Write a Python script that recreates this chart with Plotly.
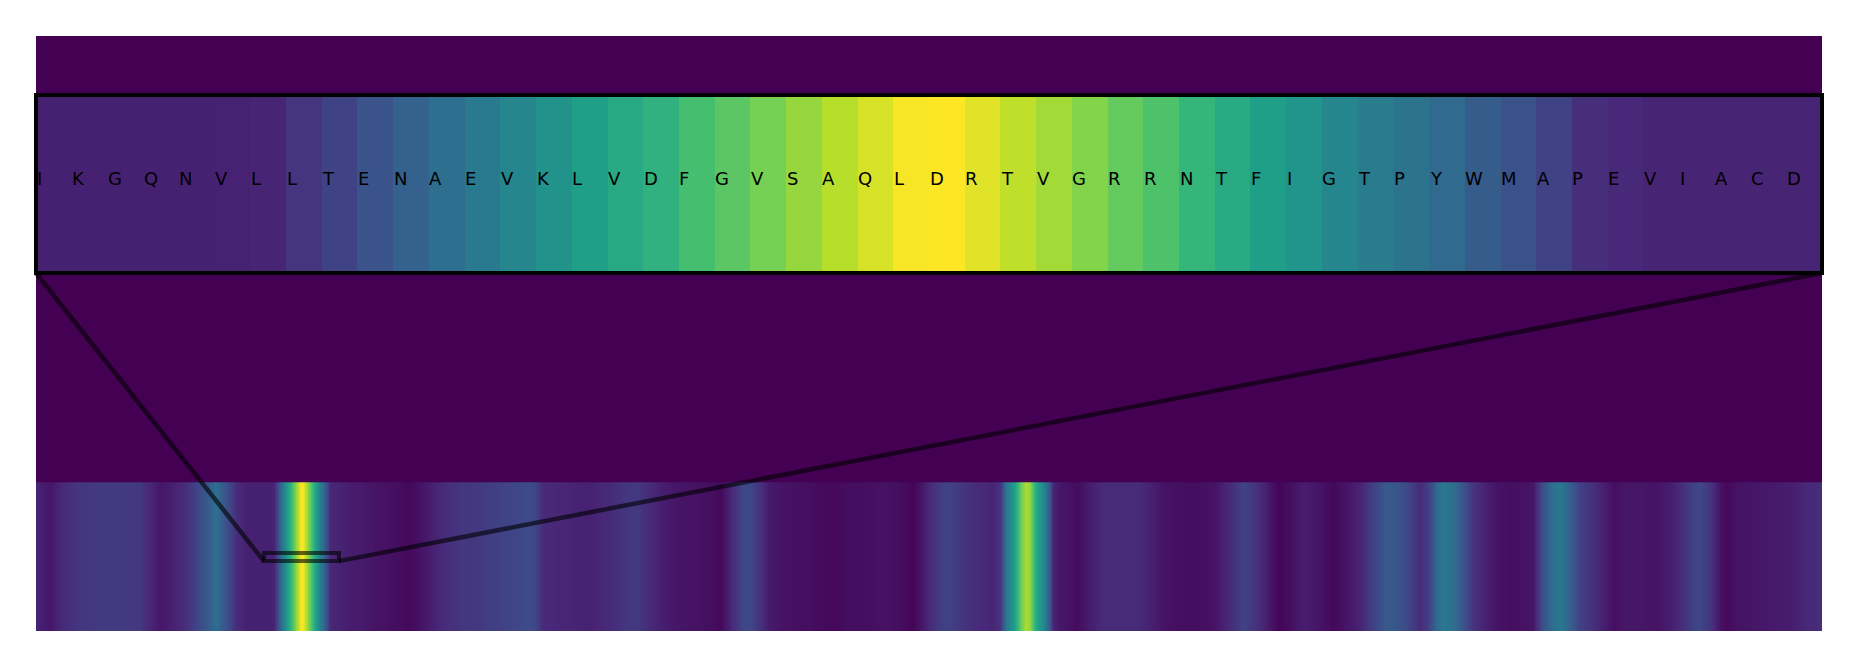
import plotly.graph_objects as go

# ---------------- data ----------------
residues = list("IKGQNVLLTENAEVKLVDFGVSAQLDRTVGRRNTFIGTPYWMAPEVIACD")
inset_start = 152          # first residue index shown in the zoomed inset
seq_length = 1191          # total sequence length (x extent of the strip)

inset_val = [0.09, 0.09, 0.09, 0.09, 0.09, 0.095, 0.10, 0.15, 0.20, 0.26,
             0.31, 0.36, 0.41, 0.46, 0.51, 0.56, 0.60, 0.64, 0.70, 0.74,
             0.79, 0.84, 0.89, 0.94, 0.99, 1.00, 0.955, 0.905, 0.86, 0.81,
             0.76, 0.715, 0.66, 0.61, 0.56, 0.52, 0.465, 0.42, 0.38, 0.34,
             0.29, 0.25, 0.20, 0.13, 0.11, 0.10, 0.10, 0.10, 0.10, 0.10]

strip_pos = [0, 9, 18, 29, 40, 69, 74, 83, 89, 98, 107, 116, 120, 127, 134, 140, 147,
             209, 218, 229, 240, 249, 258, 267, 276, 285, 296, 307, 318, 329, 333, 338,
             345, 356, 369, 383, 394, 400, 409, 418, 427, 438, 449, 456, 463, 472, 476,
             483, 489, 498, 512, 520, 532, 543, 554, 565, 578, 585, 594, 603, 609, 618,
             629, 638, 643, 647, 652, 656, 660, 663, 667, 672, 676, 678, 683, 689, 694,
             703, 712, 723, 734, 743, 752, 763, 774, 785, 796, 805, 814, 823, 829, 836,
             845, 854, 865, 874, 883, 892, 900, 909, 916, 923, 929, 934, 938, 945, 952,
             958, 965, 974, 983, 992, 998, 1005, 1012, 1016, 1023, 1029, 1036, 1043,
             1052, 1058, 1069, 1080, 1089, 1096, 1103, 1109, 1116, 1123, 1127, 1134,
             1147, 1160, 1169, 1180, 1191]
strip_val = [0.10, 0.06, 0.12, 0.16, 0.17, 0.17, 0.12, 0.06, 0.08, 0.12, 0.20, 0.30, 0.36, 0.25, 0.12, 0.09, 0.09,
             0.08, 0.07, 0.05, 0.04, 0.02, 0.06, 0.10, 0.14, 0.16, 0.17, 0.19, 0.21, 0.23, 0.21, 0.12,
             0.11, 0.10, 0.09, 0.12, 0.16, 0.17, 0.12, 0.08, 0.06, 0.05, 0.04, 0.02, 0.10, 0.22, 0.22,
             0.14, 0.07, 0.05, 0.04, 0.03, 0.02, 0.04, 0.04, 0.05, 0.03, 0.01, 0.10, 0.18, 0.20, 0.15,
             0.12, 0.10, 0.15, 0.40, 0.55, 0.75, 0.88, 0.82, 0.60, 0.45, 0.25, 0.10, 0.06, 0.05, 0.03,
             0.08, 0.12, 0.12, 0.12, 0.09, 0.05, 0.04, 0.04, 0.05, 0.12, 0.20, 0.14, 0.06, 0.01, 0.04,
             0.08, 0.06, 0.02, 0.06, 0.10, 0.20, 0.28, 0.26, 0.20, 0.12, 0.20, 0.35, 0.40, 0.36, 0.25,
             0.15, 0.10, 0.05, 0.04, 0.05, 0.06, 0.25, 0.38, 0.40, 0.30, 0.20, 0.15, 0.10,
             0.04, 0.06, 0.06, 0.05, 0.08, 0.12, 0.18, 0.22, 0.15, 0.05, 0.02, 0.05,
             0.06, 0.07, 0.08, 0.11, 0.13]

rect_y = [0.47, 0.525]     # inset region in parent y units
strip_y = [0.0, 1.0]       # strip extent in parent y units
parent_y_range = [0.0, 4.0]
inset_domain_y = [0.6017, 0.9008]

# ---------------- build ----------------
pts = list(zip(strip_pos, strip_val))
pts += [(inset_start + k + 0.5, v) for k, v in enumerate(inset_val)]
pts.sort()
xs = [p[0] for p in pts]
vs = [p[1] for p in pts]

fig = go.Figure()
ymid = (strip_y[0] + strip_y[1]) / 2
fig.add_trace(go.Heatmap(
    x=xs, y=[(strip_y[0] + ymid) / 2, (ymid + strip_y[1]) / 2], z=[vs, vs],
    colorscale="Viridis", zmin=0, zmax=1, zsmooth="best",
    showscale=False, hoverinfo="skip", xaxis="x", yaxis="y"))

fig.add_trace(go.Heatmap(
    x=[inset_start + k + 0.5 for k in range(len(inset_val))], y=[0], z=[inset_val],
    colorscale="Viridis", zmin=0, zmax=1, showscale=False, hoverinfo="skip",
    xaxis="x2", yaxis="y2"))

ann = []
for k, r in enumerate(residues):
    ann.append(dict(x=inset_start + k, y=0.03, xref="x2", yref="y2", text=r,
                    showarrow=False, xanchor="left", yanchor="middle", xshift=-1.5,
                    font=dict(family="DejaVu Sans", size=18, color="black")))

line_col = "rgba(0,0,0,0.6)"
x0p = inset_start / seq_length
x1p = (inset_start + len(residues)) / seq_length
ybp = (rect_y[0] - parent_y_range[0]) / (parent_y_range[1] - parent_y_range[0])

shapes = [
    dict(type="rect", xref="x", yref="y", x0=inset_start, x1=inset_start + len(residues),
         y0=rect_y[0], y1=rect_y[1], line=dict(color=line_col, width=4), layer="above"),
    dict(type="line", xref="paper", yref="paper", x0=0, y0=inset_domain_y[0], x1=x0p, y1=ybp,
         line=dict(color=line_col, width=4.5), layer="above"),
    dict(type="line", xref="paper", yref="paper", x0=1, y0=inset_domain_y[0], x1=x1p, y1=ybp,
         line=dict(color=line_col, width=4.5), layer="above"),
    dict(type="rect", xref="paper", yref="paper", x0=0, x1=1,
         y0=inset_domain_y[0], y1=inset_domain_y[1], line=dict(color="black", width=4), layer="above"),
]

fig.update_layout(
    width=1841, height=651,
    margin=dict(l=28, r=27, t=28, b=28),
    paper_bgcolor="white", plot_bgcolor="#440154",
    xaxis=dict(range=[0, seq_length], visible=False, domain=[0, 1]),
    yaxis=dict(range=parent_y_range, visible=False, domain=[0, 1]),
    xaxis2=dict(range=[inset_start, inset_start + len(residues)], visible=False,
                domain=[0, 1], anchor="y2"),
    yaxis2=dict(range=[-0.5, 0.5], visible=False, domain=inset_domain_y, anchor="x2"),
    shapes=shapes, annotations=ann, showlegend=False,
)

fig.write_html("out.html")
